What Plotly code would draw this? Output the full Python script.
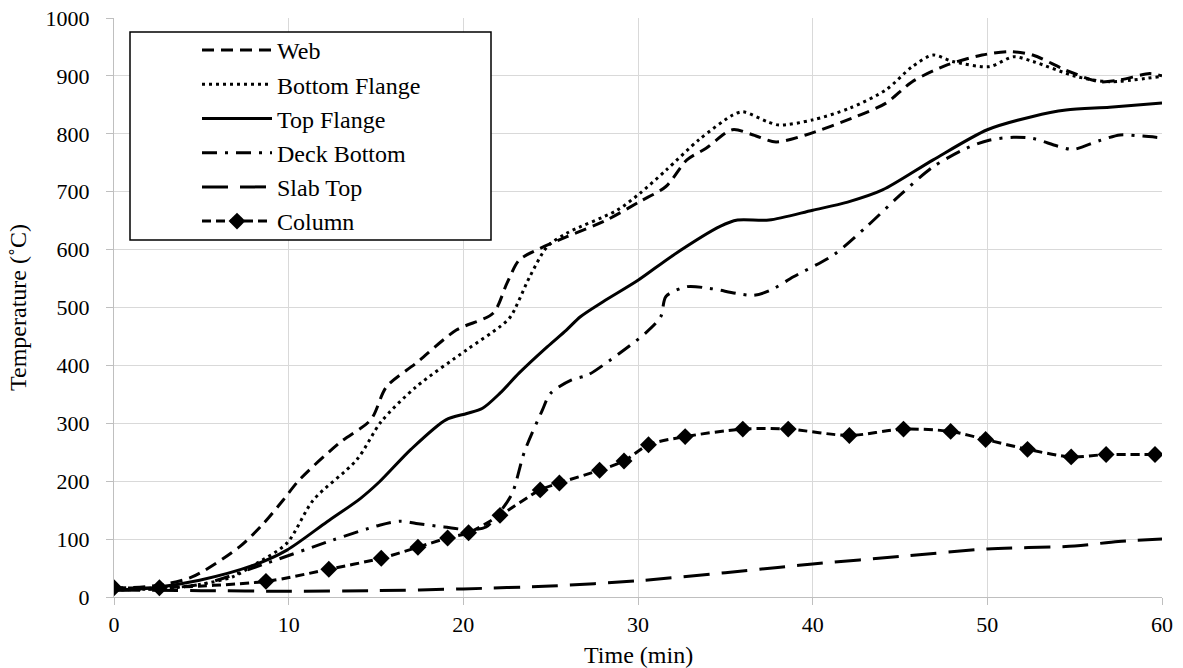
import plotly.graph_objects as go

# ---- data ----
web_t = [0, 2.5, 4.5, 7.2, 8.5, 9.7, 10.6, 12.9, 14.7, 15.6, 17.3, 19.6, 21.7, 22.5, 23.2, 24.4, 25.9,
         28.2, 30.1, 31.6, 32.8, 33.9, 35.4, 36.6, 37.9, 39.6, 42.5, 44.2, 45.7, 47.7, 49.7, 51.3,
         52.6, 54.5, 56.4, 57.6, 59.3, 60]
web_y = [15, 20, 35, 87, 125, 168, 202, 266, 306, 363, 404, 461, 490, 542, 582, 602, 622,
         651, 683, 709, 755, 775, 807, 798, 786, 798, 830, 853, 890, 919, 936, 942,
         936, 910, 890, 893, 904, 900]

bf_t = [0, 3, 5, 6.8, 8, 9.9, 11.4, 13.9, 15.3, 17.3, 20.2, 22.1, 22.7, 23.8, 24.8, 25.9, 28.8,
        30.1, 31.6, 33.5, 35.4, 36, 37.4, 38.1, 40, 42.1, 44.2, 45.7, 46.9, 48, 50.1, 51.5, 52.6,
        55.1, 57, 59.9]
bf_y = [12, 15, 22, 35, 55, 93, 167, 237, 303, 363, 427, 467, 484, 553, 605, 628, 668,
        697, 737, 790, 832, 838, 821, 815, 824, 844, 876, 916, 936, 925, 916, 933, 925,
        899, 890, 899]

tf_t = [0, 2, 4.9, 8, 9.9, 12.2, 14.1, 15.2, 17, 19.0, 20.2, 21.1, 22.1, 23.2, 24.8, 25.9, 26.7,
        28, 30, 32, 34.7, 35.7, 37.5, 40, 42, 44, 46.9, 50, 52.6, 54.5, 57, 60]
tf_y = [12, 15, 29, 55, 81, 130, 170, 199, 255, 306, 317, 326, 352, 387, 432, 461, 484,
        510, 547, 590, 640, 651, 651, 668, 682, 703, 755, 807, 830, 841, 846, 853]

db_t = [0, 3, 5.3, 8.7, 12.5, 15.2, 16.4, 17.3, 18.9, 20.4, 21.3, 22.1, 22.8, 23.5, 24.5, 25,
        26.2, 27.1, 28.4, 30.4, 31.3, 31.6, 32.8, 34.1, 36.6, 37.6, 38.9, 41.2, 43.1, 45, 46.9,
        48.8, 50.1, 51.5, 52.6, 54, 54.9, 56.4, 57.6, 58.9, 60]
db_y = [12, 15, 24, 58, 98, 124, 131, 127, 121, 116, 121, 147, 179, 251, 321, 352,
        375, 383, 409, 455, 484, 519, 536, 533, 521, 530, 553, 591, 640, 694, 743,
        775, 789, 794, 792, 779, 773, 788, 798, 796, 793]

st_t = [0, 5, 10, 15, 20, 25, 30, 35, 38, 40, 45, 50, 55, 57.5, 60]
st_y = [12, 11, 10, 11, 14, 19, 28, 42, 51, 57, 70, 83, 88, 96, 100]

col_t = [0, 2.6, 8.7, 12.3, 15.3, 17.4, 19.1, 20.3, 22.1, 24.4, 25.5, 27.8, 29.2, 30.6, 32.7,
         36.0, 38.6, 42.1, 45.2, 47.9, 49.9, 52.3, 54.8, 56.8, 59.6]
col_y = [16, 16, 27, 48, 67, 86, 102, 111, 141, 185, 197, 219, 235, 263, 277,
         290, 290, 279, 290, 286, 272, 255, 242, 246, 246]

x_ticks = [0, 10, 20, 30, 40, 50, 60]
y_ticks = [0, 100, 200, 300, 400, 500, 600, 700, 800, 900, 1000]

FONT = "Liberation Serif"
FS = 24
TFS = 22

fig = go.Figure()

def add_line(t, y, name, dash, width=3):
    fig.add_trace(go.Scatter(
        x=t, y=y, name=name, mode="lines",
        line=dict(color="black", width=width, dash=dash, shape="spline", smoothing=0.8),
    ))

add_line(web_t, web_y, "Web", "12px,7px")
add_line(bf_t, bf_y, "Bottom Flange", "3px,4px")
add_line(tf_t, tf_y, "Top Flange", "solid")
add_line(db_t, db_y, "Deck Bottom", "15px,8px,3px,8px")
add_line(st_t, st_y, "Slab Top", "26px,12px")
fig.add_trace(go.Scatter(
    x=col_t, y=col_y, name="Column", mode="lines+markers",
    line=dict(color="black", width=3, dash="9px,5px", shape="spline", smoothing=0.8),
    marker=dict(symbol="diamond", size=13, color="black"),
))

L, R, T, B = 114, 21, 18, 71
W, H = 1183, 668
pw, ph = W - L - R, H - T - B

def px_x(p):
    return (p - L) / pw

def px_y(p):
    return (H - B - p) / ph

fig.add_shape(type="rect", xref="paper", yref="paper",
              x0=px_x(130), x1=px_x(491), y0=px_y(240), y1=px_y(32),
              line=dict(color="black", width=1.5), fillcolor="white", layer="above")

fig.add_annotation(text="Time (min)", xref="paper", yref="paper",
                   x=0.5, y=px_y(655), xanchor="center", yanchor="middle",
                   showarrow=False, font=dict(family=FONT, size=FS, color="black"))

fig.update_layout(
    width=W, height=H,
    margin=dict(l=L, r=R, t=T, b=B, autoexpand=False),
    paper_bgcolor="white", plot_bgcolor="white",
    font=dict(family=FONT, size=FS, color="black"),
    showlegend=True,
    legend=dict(
        x=px_x(197), y=px_y(28), xanchor="left", yanchor="top",
        bgcolor="rgba(0,0,0,0)", borderwidth=0,
        font=dict(family=FONT, size=FS, color="black"),
        itemwidth=70, tracegroupgap=0,
    ),
    xaxis=dict(
        range=[0, 60], tickvals=x_ticks, ticktext=[str(v) for v in x_ticks],
        showgrid=True, gridcolor="#d9d9d9", gridwidth=1.3,
        showline=True, linecolor="#bfbfbf", linewidth=1.3,
        ticks="outside", ticklen=7, tickcolor="#bfbfbf", tickwidth=1.3,
        zeroline=False, ticklabelstandoff=0, automargin=False,
        tickfont=dict(family=FONT, size=TFS),
    ),
    yaxis=dict(
        range=[0, 1000], tickvals=y_ticks, ticktext=[str(v) for v in y_ticks],
        showgrid=True, gridcolor="#d9d9d9", gridwidth=1.3,
        showline=True, linecolor="#bfbfbf", linewidth=1.3,
        ticks="outside", ticklen=7, tickcolor="#bfbfbf", tickwidth=1.3,
        zeroline=False, ticklabelstandoff=12, automargin=False,
        tickfont=dict(family=FONT, size=TFS),
        title=dict(text="Temperature (˚C)", font=dict(family=FONT, size=FS), standoff=12),
    ),
)

fig.write_html("out.html")
